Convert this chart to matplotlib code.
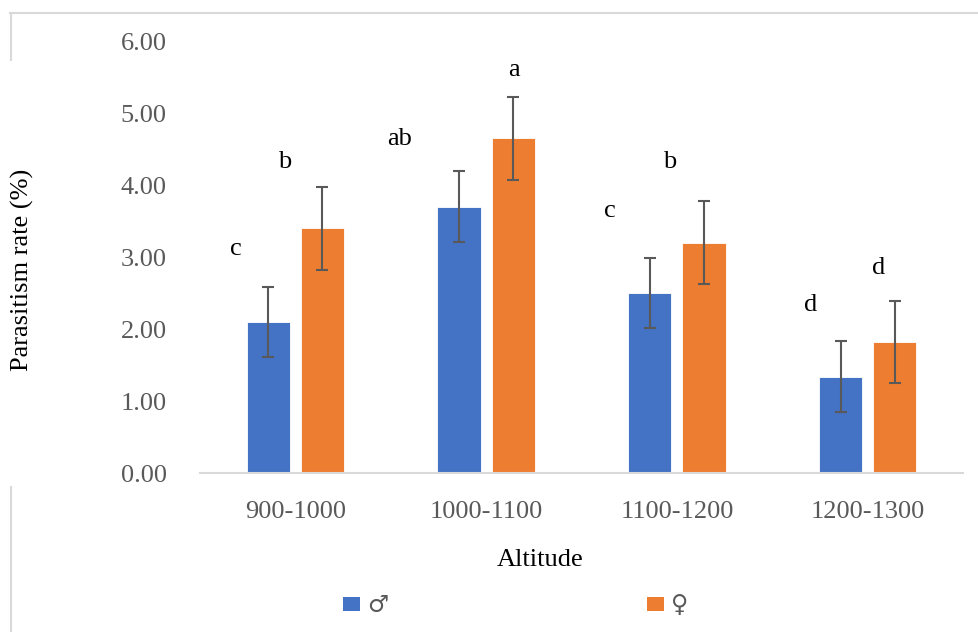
import matplotlib
matplotlib.use("Agg")
import matplotlib.pyplot as plt
from matplotlib.lines import Line2D
from matplotlib.patches import Rectangle
import numpy as np

categories = ["900-1000", "1000-1100", "1100-1200", "1200-1300"]
male = [2.10, 3.70, 2.50, 1.34]
female = [3.40, 4.65, 3.20, 1.82]
male_err = [0.49, 0.49, 0.49, 0.49]
female_err = [0.575, 0.575, 0.575, 0.575]
male_letters = ["c", "ab", "c", "d"]
female_letters = ["b", "a", "b", "d"]
legend_labels = ["\u2642", "\u2640"]
yticks = [0, 1, 2, 3, 4, 5, 6]

# manual letter placement (x offset from group centre, baseline y)
male_letter_pos = [(-0.31, 3.03), (-0.455, 4.56), (-0.35, 3.55), (-0.30, 2.25)]
female_letter_pos = [(-0.055, 4.24), (0.147, 5.51), (-0.04, 4.24), (0.06, 2.76)]

W, H = 979, 632
fig = plt.figure(figsize=(W / 100, H / 100), dpi=100)
ax = fig.add_axes([200 / W, 1 - 473 / H, 763 / W, 432 / H])

serif = "Liberation Serif"
gray = "#595959"
blue = "#4472C4"
orange = "#ED7D31"

x = np.arange(len(categories))
off = 0.142
bw = 0.226
ax.bar(x - off, male, bw, color=blue, edgecolor="white", linewidth=0.6, zorder=2)
ax.bar(x + off, female, bw, color=orange, edgecolor="white", linewidth=0.6, zorder=2)
ax.errorbar(x - off, male, yerr=male_err, fmt="none", ecolor=gray, elinewidth=1.5,
            capsize=4.5, capthick=1.5, zorder=3)
ax.errorbar(x + off, female, yerr=female_err, fmt="none", ecolor=gray, elinewidth=1.5,
            capsize=4.5, capthick=1.5, zorder=3)

for i in range(len(categories)):
    dx, yy = male_letter_pos[i]
    ax.text(x[i] + dx, yy, male_letters[i], ha="center", va="baseline",
            fontsize=19, family=serif, color="black")
    dx, yy = female_letter_pos[i]
    ax.text(x[i] + dx, yy, female_letters[i], ha="center", va="baseline",
            fontsize=19, family=serif, color="black")

ax.set_xlim(-0.5, len(categories) - 0.5)
ax.set_ylim(0, 6)
ax.set_yticks(yticks)
ax.set_yticklabels([f"{v:.2f}" for v in yticks], family=serif, fontsize=19, color=gray)
ax.set_xticks(x)
ax.set_xticklabels(categories, family=serif, fontsize=19, color=gray)
ax.tick_params(axis="both", length=0)
ax.tick_params(axis="y", pad=24)
ax.tick_params(axis="x", pad=20)
for s in ["top", "right", "left"]:
    ax.spines[s].set_visible(False)
ax.spines["bottom"].set_color("#D9D9D9")
ax.spines["bottom"].set_linewidth(1.5)
ax.set_facecolor("none")

fig.text(22 / W, 1 - 270 / H, "Parasitism rate (%)", rotation=90, ha="center", va="center",
         family=serif, fontsize=19, color="black")
fig.text(540 / W, 1 - 560 / H, "Altitude", ha="center", va="center",
         family=serif, fontsize=19, color="black")

# legend
for (sx, tx, col, lab) in [(343, 367, blue, legend_labels[0]), (647, 671, orange, legend_labels[1])]:
    fig.add_artist(Rectangle((sx / W, 1 - 611 / H), 17 / W, 14 / H, transform=fig.transFigure,
                             facecolor=col, edgecolor="none"))
    fig.text(tx / W, 1 - 605 / H, lab, ha="left", va="center", family="DejaVu Sans",
             fontsize=17, color=gray)

# chart-area border fragments
bc = "#D9D9D9"
fig.add_artist(Line2D([10 / W, 1], [1 - 13 / H, 1 - 13 / H], transform=fig.transFigure,
                      color=bc, linewidth=1.5))
fig.add_artist(Line2D([11 / W, 11 / W], [1 - 13 / H, 1 - 60 / H], transform=fig.transFigure,
                      color=bc, linewidth=1.5))
fig.add_artist(Line2D([11 / W, 11 / W], [1 - 487 / H, 0], transform=fig.transFigure,
                      color=bc, linewidth=1.5))

fig.savefig("out.png", dpi=100, facecolor="white")
